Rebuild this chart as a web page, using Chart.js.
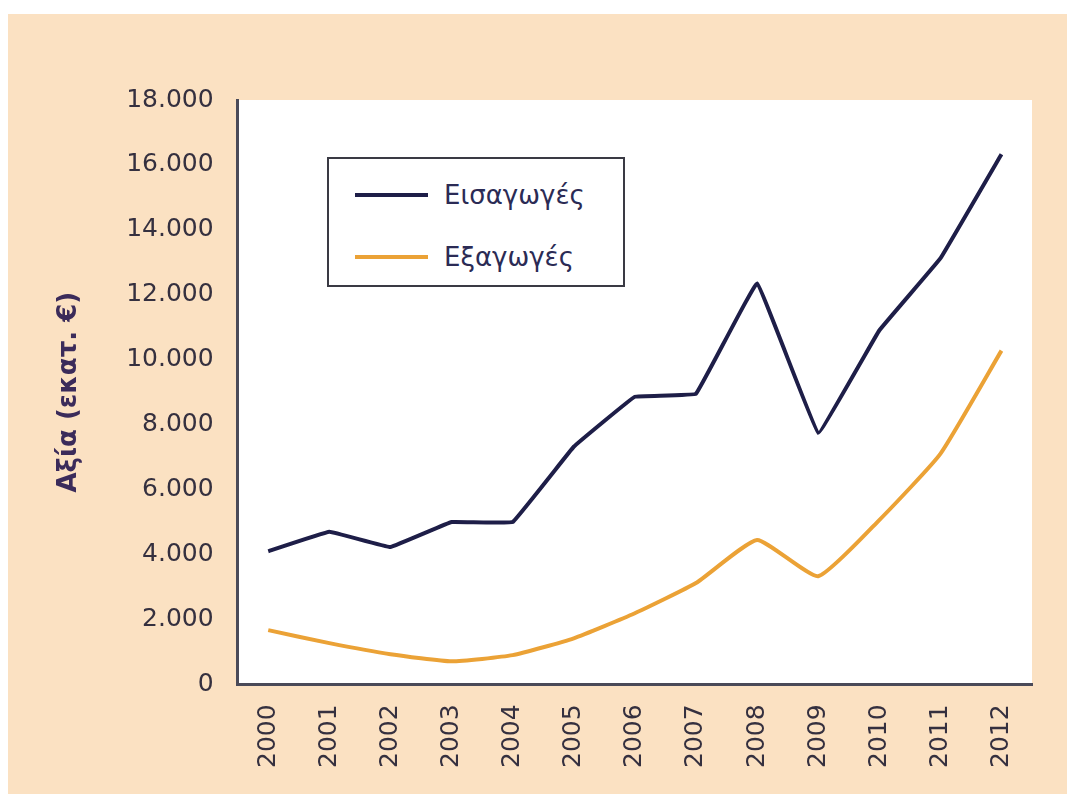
<!DOCTYPE html>
<html>
<head>
<meta charset="utf-8">
<script src="https://cdn.jsdelivr.net/npm/chart.js@4.4.1/dist/chart.umd.min.js"></script>
<style>
  body { margin: 0; background: #fff; }
  #wrap { position: absolute; left: 8px; top: 14px; width: 1059px; height: 780px; background: #fbe1c2; }
  #legend {
    position: absolute; left: 319px; top: 143px; width: 294px; height: 126px;
    border: 2px solid #3a3a44; background: #fff;
    font-family: "DejaVu Sans", sans-serif; font-size: 26px; color: #2b2b55;
  }
  #legend .row { position: absolute; left: 0; display: flex; align-items: center; }
  #legend .swatch { width: 73px; height: 4px; margin-left: 26px; margin-right: 16px; }
</style>
</head>
<body>
<div id="wrap">
  <canvas id="chart" width="1059" height="780"></canvas>
  <div id="legend"></div>
</div>
<script>
const years = ['2000', '2001', '2002', '2003', '2004', '2005', '2006', '2007', '2008', '2009', '2010', '2011', '2012']
const imports = [4100, 4700, 4230, 5000, 5000, 7320, 8860, 8950, 12350, 7750, 10900, 13120, 16330]
const exportsVals = [1670, 1270, 930, 710, 900, 1420, 2190, 3120, 4450, 3330, 5060, 7100, 10280]
const seriesLabels = ['Εισαγωγές', 'Εξαγωγές']
const yTitle = 'Αξία (εκατ. €)'

const fontFamily = '"DejaVu Sans", sans-serif'

// fond blanc de la zone de tracé
const plotBg = {
  id: 'plotBg',
  beforeDraw(chart) {
    const { ctx, chartArea } = chart
    ctx.save()
    ctx.fillStyle = '#ffffff'
    ctx.fillRect(chartArea.left, chartArea.top, chartArea.right - chartArea.left, chartArea.bottom - chartArea.top)
    ctx.restore()
  }
}

const chart = new Chart(document.getElementById('chart'), {
  type: 'line',
  data: {
    labels: years,
    datasets: [
      {
        label: seriesLabels[0],
        data: imports,
        borderColor: '#1e1e48',
        borderWidth: 4,
        pointRadius: 0,
        tension: 0.05
      },
      {
        label: seriesLabels[1],
        data: exportsVals,
        borderColor: '#eba236',
        borderWidth: 4,
        pointRadius: 0,
        tension: 0.15
      }
    ]
  },
  options: {
    responsive: false,
    animation: false,
    layout: { padding: { top: 86, right: 35, left: 42, bottom: 6 } },
    plugins: {
      legend: { display: false },
      tooltip: { enabled: false }
    },
    scales: {
      x: {
        offset: true,
        grid: { display: false, drawTicks: false },
        border: { display: true, color: '#4a4a58', width: 3 },
        ticks: {
          color: '#35303f',
          font: { family: fontFamily, size: 25 },
          minRotation: 90,
          maxRotation: 90,
          padding: 20
        }
      },
      y: {
        min: 0,
        max: 18000,
        grid: { display: false, drawTicks: false },
        border: { display: true, color: '#4a4a58', width: 3 },
        ticks: {
          stepSize: 2000,
          color: '#35303f',
          font: { family: fontFamily, size: 25 },
          padding: 24,
          callback: v => String(v).replace(/\B(?=(\d{3})+(?!\d))/g, '.')
        },
        title: {
          display: true,
          text: yTitle,
          color: '#3b2b5a',
          font: { family: fontFamily, size: 26, weight: 'bold' },
          padding: { bottom: 17 }
        }
      }
    }
  },
  plugins: [plotBg]
})

// légende personnalisée dans un cadre
const legendEl = document.getElementById('legend')
const rowTops = [36, 98]
chart.data.datasets.forEach((ds, i) => {
  const row = document.createElement('div')
  row.className = 'row'
  row.style.top = (rowTops[i] - 18) + 'px'
  row.style.height = '36px'
  const sw = document.createElement('div')
  sw.className = 'swatch'
  sw.style.background = ds.borderColor
  const txt = document.createElement('span')
  txt.textContent = ds.label
  row.appendChild(sw)
  row.appendChild(txt)
  legendEl.appendChild(row)
})
</script>
</body>
</html>
